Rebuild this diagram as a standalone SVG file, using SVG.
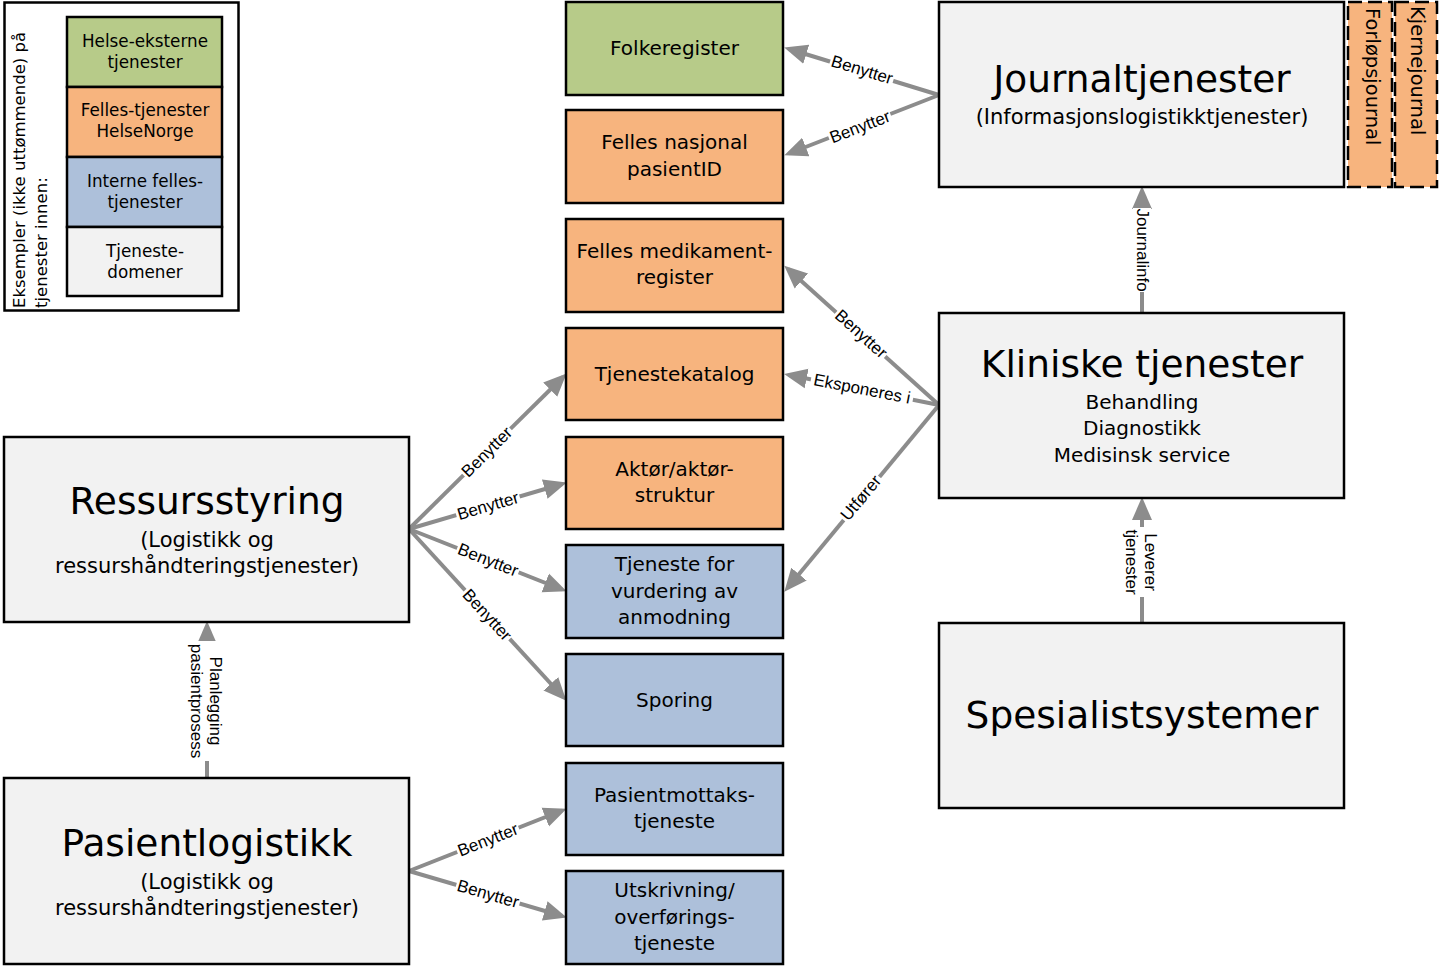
<svg xmlns="http://www.w3.org/2000/svg" width="1441" height="966" viewBox="0 0 1441 966">
  <style>
    .box { stroke: #000; stroke-width: 2.5; }
    .green { fill: #b7cb89; }
    .orange { fill: #f7b47e; }
    .blue { fill: #adc0da; }
    .gray { fill: #f2f2f2; }
    .dash { stroke: #000; stroke-width: 2.5; stroke-dasharray: 14 6; fill: #f7b47e; }
    .t { font-family: "DejaVu Sans", "Noto Sans", sans-serif; fill: #000; text-anchor: middle; dominant-baseline: central; }
    .s20 { font-size: 20px; }
    .s21 { font-size: 21px; }
    .s17 { font-size: 16.8px; }
    .big { font-size: 37.5px; }
    .conn { stroke: #8c8c8c; stroke-width: 4; fill: none; marker-end: url(#arr); }
    .lbl { font-family: "Liberation Sans", Arial, sans-serif; font-size: 17px; fill: #000; text-anchor: middle; dominant-baseline: central; }
    .lbg { fill: #fff; }
  </style>
  <defs>
    <marker id="arr" markerUnits="userSpaceOnUse" markerWidth="24" markerHeight="22" refX="18" refY="11" orient="auto">
      <path d="M0,1 L23,11 L0,21 z" fill="#8c8c8c"/>
    </marker>
  </defs>
  <rect width="1441" height="966" fill="#fff"/>

  <!-- legend -->
  <g id="legend">
    <rect x="4.5" y="2.5" width="234" height="308" fill="#fff" stroke="#000" stroke-width="2.5"/>
    <rect class="box green" x="67" y="17" width="155" height="70"/>
    <rect class="box orange" x="67" y="87" width="155" height="70"/>
    <rect class="box blue" x="67" y="157" width="155" height="70"/>
    <rect class="box gray" x="67" y="227" width="155" height="69"/>
    <text class="t s17" x="145" y="41">Helse-eksterne</text>
    <text class="t s17" x="145" y="62">tjenester</text>
    <text class="t s17" x="145" y="110">Felles-tjenester</text>
    <text class="t s17" x="145" y="131">HelseNorge</text>
    <text class="t s17" x="145" y="181">Interne felles-</text>
    <text class="t s17" x="145" y="202">tjenester</text>
    <text class="t s17" x="145" y="251">Tjeneste-</text>
    <text class="t s17" x="145" y="272">domener</text>
    <text transform="translate(25,308) rotate(-90)" font-family="DejaVu Sans, sans-serif" font-size="16.5">
      <tspan x="0" y="0">Eksempler (ikke uttømmende) på</tspan>
      <tspan x="0" y="22">tjenester innen:</tspan>
    </text>
  </g>

  <!-- connectors -->
  <g id="connectors">
    <line class="conn" x1="939" y1="95" x2="789" y2="49"/>
    <line class="conn" x1="939" y1="95" x2="789" y2="153.5"/>
    <line class="conn" x1="939" y1="405" x2="788" y2="269"/>
    <line class="conn" x1="939" y1="405" x2="789" y2="375"/>
    <line class="conn" x1="939" y1="405" x2="787.5" y2="588"/>
    <line class="conn" x1="409" y1="529" x2="563" y2="377"/>
    <line class="conn" x1="409" y1="529" x2="562" y2="484"/>
    <line class="conn" x1="409" y1="529" x2="562" y2="589.5"/>
    <line class="conn" x1="409" y1="529" x2="563" y2="697"/>
    <line class="conn" x1="409" y1="871" x2="562" y2="810.5"/>
    <line class="conn" x1="409" y1="871" x2="562" y2="916"/>
    <line class="conn" x1="207" y1="778" x2="207" y2="626"/>
    <line class="conn" x1="1142" y1="623" x2="1142" y2="502"/>
    <line class="conn" x1="1142" y1="313" x2="1142" y2="191"/>

    <g transform="translate(862,70) rotate(17)"><rect class="lbg" x="-33" y="-9" width="66" height="18"/><text class="lbl">Benytter</text></g>
    <g transform="translate(860,127) rotate(-21)"><rect class="lbg" x="-33" y="-9" width="66" height="18"/><text class="lbl">Benytter</text></g>
    <g transform="translate(861,334) rotate(42)"><rect class="lbg" x="-33" y="-9" width="66" height="18"/><text class="lbl">Benytter</text></g>
    <g transform="translate(862,389) rotate(11)"><rect class="lbg" x="-52" y="-9" width="104" height="18"/><text class="lbl">Eksponeres i</text></g>
    <g transform="translate(861,498) rotate(-50)"><rect class="lbg" x="-28" y="-9" width="56" height="18"/><text class="lbl">Utfører</text></g>
    <g transform="translate(487,452) rotate(-44.6)"><rect class="lbg" x="-33" y="-9" width="66" height="18"/><text class="lbl">Benytter</text></g>
    <g transform="translate(488,506) rotate(-16.3)"><rect class="lbg" x="-33" y="-9" width="66" height="18"/><text class="lbl">Benytter</text></g>
    <g transform="translate(488,560) rotate(21.5)"><rect class="lbg" x="-33" y="-9" width="66" height="18"/><text class="lbl">Benytter</text></g>
    <g transform="translate(487,615) rotate(47.4)"><rect class="lbg" x="-33" y="-9" width="66" height="18"/><text class="lbl">Benytter</text></g>
    <g transform="translate(488,840) rotate(-21.5)"><rect class="lbg" x="-33" y="-9" width="66" height="18"/><text class="lbl">Benytter</text></g>
    <g transform="translate(488,894) rotate(16.3)"><rect class="lbg" x="-33" y="-9" width="66" height="18"/><text class="lbl">Benytter</text></g>
    <g transform="translate(207,701) rotate(90)"><rect class="lbg" x="-60" y="-19" width="120" height="38"/><text class="lbl"><tspan x="0" y="-9">Planlegging</tspan><tspan x="0" y="10">pasientprosess</tspan></text></g>
    <g transform="translate(1142,250) rotate(90)"><rect class="lbg" x="-42" y="-9" width="84" height="18"/><text class="lbl">Journalinfo</text></g>
    <g transform="translate(1142,562) rotate(90)"><rect class="lbg" x="-35" y="-19" width="70" height="38"/><text class="lbl"><tspan x="0" y="-9">Leverer</tspan><tspan x="0" y="10">tjenester</tspan></text></g>
  </g>

  <!-- shared service boxes -->
  <g id="folkeregister"><rect class="box green" x="566" y="2" width="217" height="93"/><text class="t s20" x="674.5" y="48">Folkeregister</text></g>
  <g id="pasientid"><rect class="box orange" x="566" y="110" width="217" height="93"/><text class="t s20" x="674.5" y="142">Felles nasjonal</text><text class="t s20" x="674.5" y="169">pasientID</text></g>
  <g id="medikamentregister"><rect class="box orange" x="566" y="219" width="217" height="93"/><text class="t s20" x="674.5" y="251">Felles medikament-</text><text class="t s20" x="674.5" y="277">register</text></g>
  <g id="tjenestekatalog"><rect class="box orange" x="566" y="328" width="217" height="92"/><text class="t s20" x="674.5" y="374">Tjenestekatalog</text></g>
  <g id="aktorstruktur"><rect class="box orange" x="566" y="437" width="217" height="92"/><text class="t s20" x="674.5" y="469">Aktør/aktør-</text><text class="t s20" x="674.5" y="495">struktur</text></g>
  <g id="vurdering"><rect class="box blue" x="566" y="545" width="217" height="93"/><text class="t s20" x="674.5" y="564">Tjeneste for</text><text class="t s20" x="674.5" y="591">vurdering av</text><text class="t s20" x="674.5" y="617">anmodning</text></g>
  <g id="sporing"><rect class="box blue" x="566" y="654" width="217" height="92"/><text class="t s20" x="674.5" y="700">Sporing</text></g>
  <g id="pasientmottak"><rect class="box blue" x="566" y="763" width="217" height="92"/><text class="t s20" x="674.5" y="795">Pasientmottaks-</text><text class="t s20" x="674.5" y="821">tjeneste</text></g>
  <g id="utskrivning"><rect class="box blue" x="566" y="871" width="217" height="93"/><text class="t s20" x="674.5" y="890">Utskrivning/</text><text class="t s20" x="674.5" y="917">overførings-</text><text class="t s20" x="674.5" y="943">tjeneste</text></g>

  <!-- service domains -->
  <g id="journaltjenester"><rect class="box gray" x="939" y="2" width="405" height="185"/><text class="t big" x="1142" y="79">Journaltjenester</text><text class="t s21" x="1142" y="117">(Informasjonslogistikktjenester)</text></g>
  <g id="forlopsjournal"><rect class="dash" x="1348" y="2" width="44" height="185"/><text transform="translate(1372,8) rotate(90)" font-family="DejaVu Sans, sans-serif" font-size="19.5" dominant-baseline="central">Forløpsjournal</text></g>
  <g id="kjernejournal"><rect class="dash" x="1395" y="2" width="42" height="185"/><text transform="translate(1417,6) rotate(90)" font-family="DejaVu Sans, sans-serif" font-size="19.5" dominant-baseline="central">Kjernejournal</text></g>
  <g id="kliniske"><rect class="box gray" x="939" y="313" width="405" height="185"/><text class="t big" x="1142" y="364">Kliniske tjenester</text><text class="t s20" x="1142" y="402">Behandling</text><text class="t s20" x="1142" y="428">Diagnostikk</text><text class="t s20" x="1142" y="455">Medisinsk service</text></g>
  <g id="spesialistsystemer"><rect class="box gray" x="939" y="623" width="405" height="185"/><text class="t big" x="1142" y="715">Spesialistsystemer</text></g>
  <g id="ressursstyring"><rect class="box gray" x="4" y="437" width="405" height="185"/><text class="t big" x="207" y="501">Ressursstyring</text><text class="t s21" x="207" y="540">(Logistikk og</text><text class="t s21" x="207" y="566">ressurshåndteringstjenester)</text></g>
  <g id="pasientlogistikk"><rect class="box gray" x="4" y="778" width="405" height="186"/><text class="t big" x="207" y="843">Pasientlogistikk</text><text class="t s21" x="207" y="882">(Logistikk og</text><text class="t s21" x="207" y="908">ressurshåndteringstjenester)</text></g>
</svg>
